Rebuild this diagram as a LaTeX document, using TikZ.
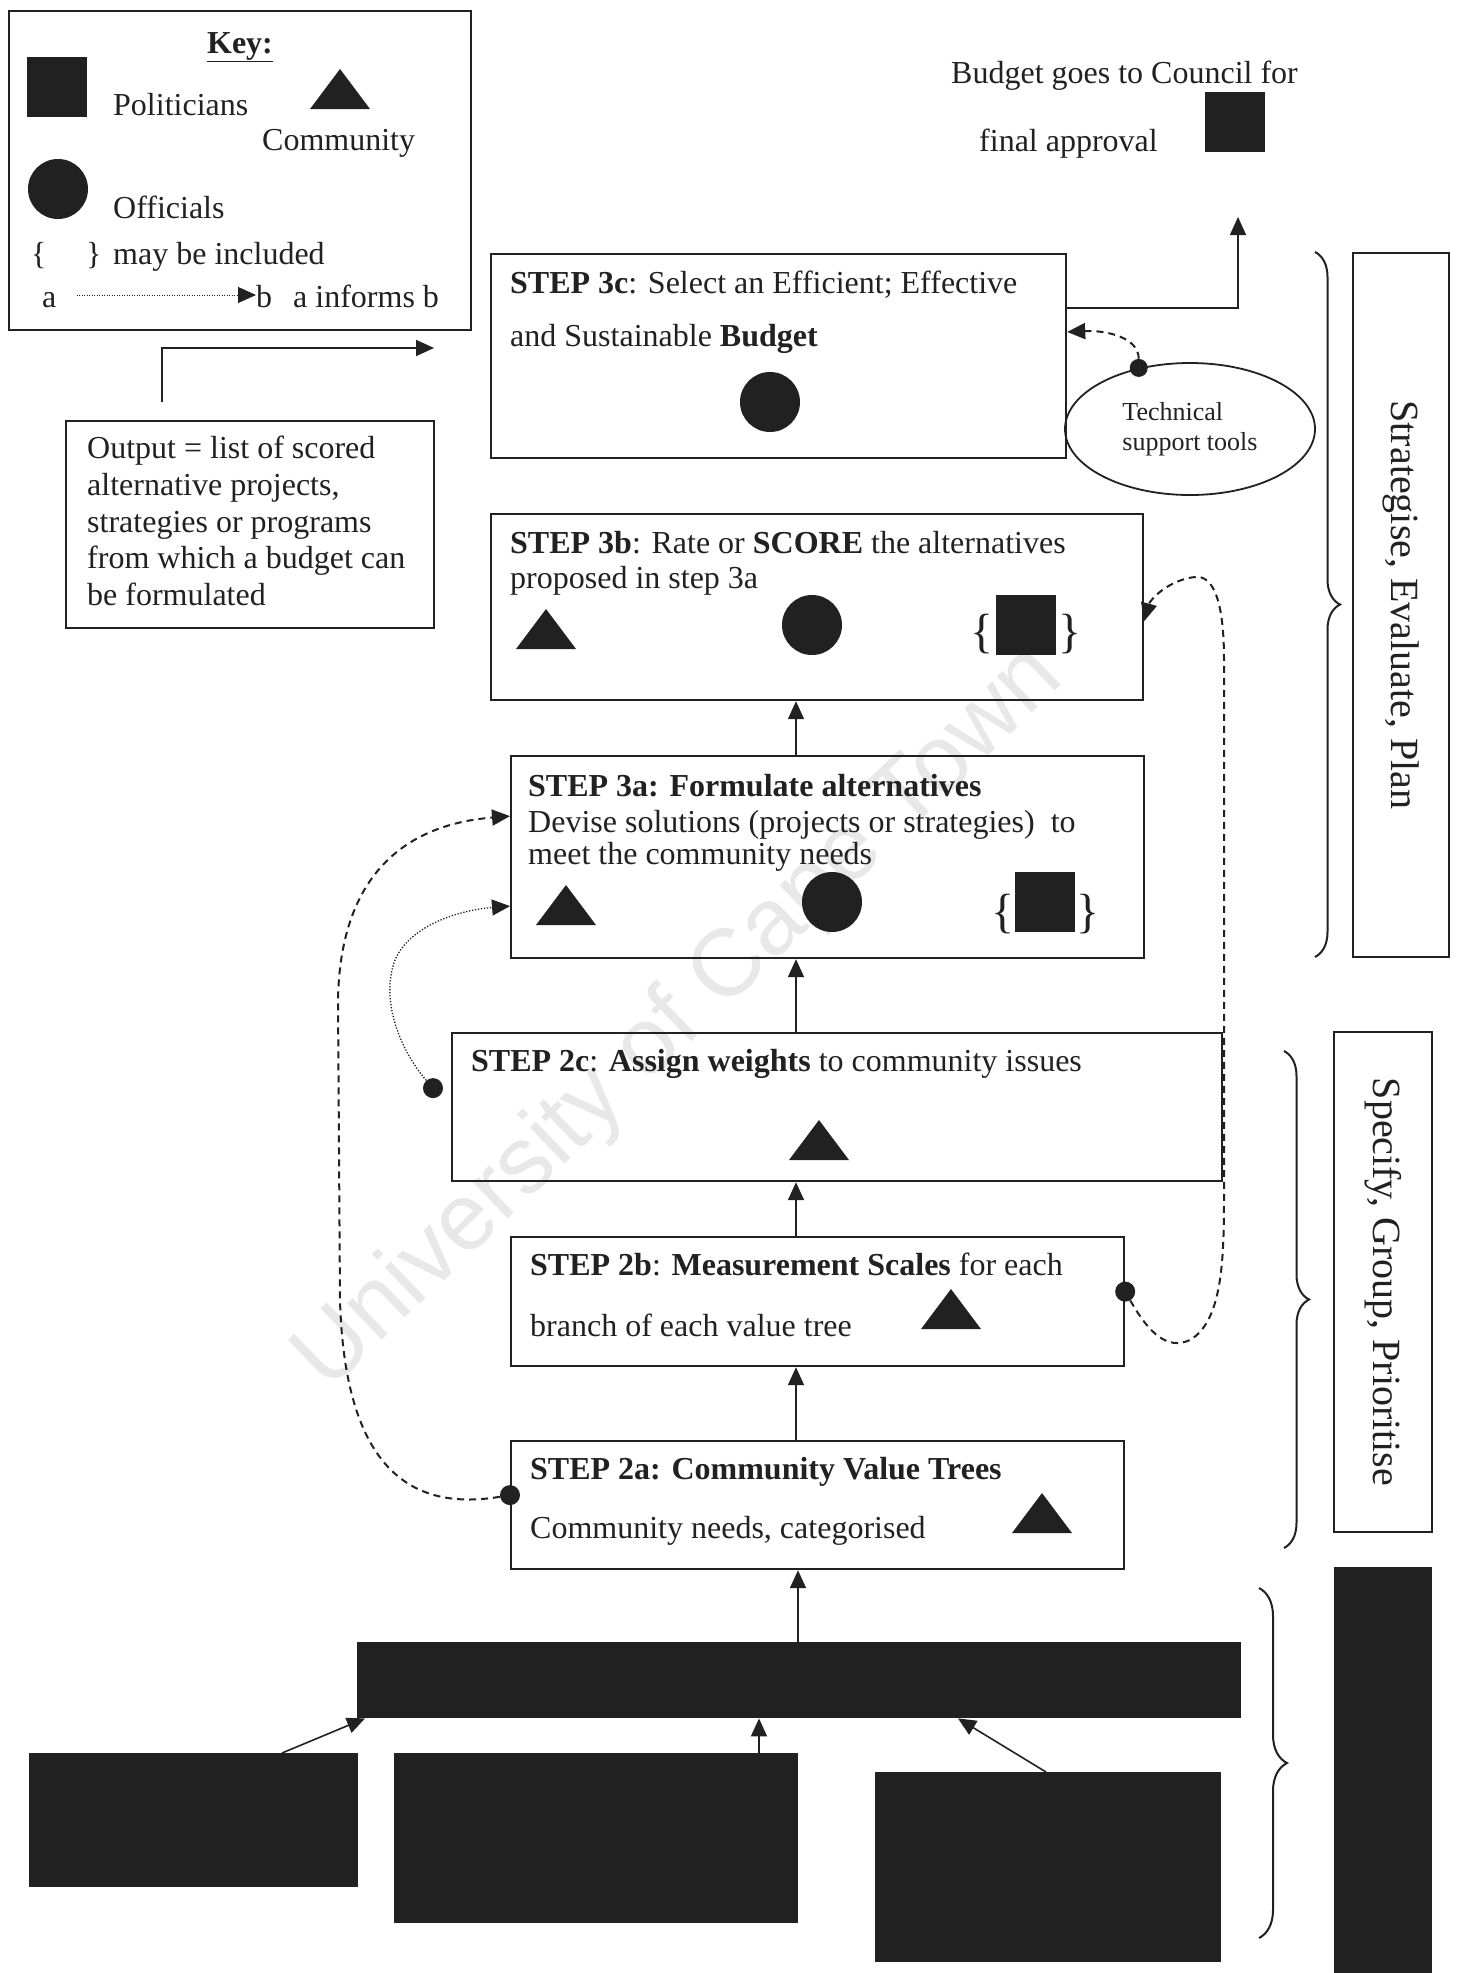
\documentclass[tikz,border=0pt]{standalone}
\usepackage{fontspec}
\setmainfont{Liberation Serif}
\newfontfamily\wmfont{Liberation Sans}
\usetikzlibrary{arrows.meta,shapes.geometric,decorations.pathreplacing,calc}
\definecolor{ink}{gray}{0.13}
\newcommand\fsz[2]{\fontsize{#1}{#2}\selectfont}
\begin{document}
\begin{tikzpicture}[x=1pt,y=-1pt,
  box/.style={draw=ink, line width=2.2pt, rectangle, inner sep=0pt, anchor=north west},
  txt/.style={anchor=base west, inner sep=0pt, font=\fsz{32}{37}, text=ink},
  dark/.style={fill=ink, draw=none, inner sep=0pt},
  official/.style={circle, fill=ink, minimum size=60pt, inner sep=0pt},
  politician/.style={rectangle, fill=ink, minimum size=60pt, inner sep=0pt},
  comm/.pic={\fill[ink] (0,0) -- (-30,40) -- (30,40) -- cycle;},
  arr/.style={draw=ink, line width=1.6pt, -{Triangle[length=18pt,width=16pt]}},
  dsh/.style={draw=ink, line width=2pt, dash pattern=on 7pt off 5pt, -{Triangle[length=18pt,width=16pt]}},
  dotl/.style={draw=ink, line width=1.3pt, dash pattern=on 1.3pt off 1.7pt, -{Triangle[length=18pt,width=16pt]}},
  dot/.style={circle, fill=ink, minimum size=20pt, inner sep=0pt},
  brc/.style={decorate, decoration={brace, amplitude=25pt}, draw=ink, line width=2pt},
  curly/.style={inner sep=0pt, font=\fsz{48}{48}, text=ink},
]
\fill[white] (0,0) rectangle (1460,1973);
\useasboundingbox (0,0) rectangle (1460,1973);

% watermark
\node[rotate=44, text=black!9, font={\wmfont\fsz{95}{95}}, inner sep=0pt] (wm) at (680,1019) {University of Cape Town};

% key
\node[box, minimum width=462pt, minimum height=319pt] (key) at (8,10) {};
\node[anchor=base, inner sep=0pt, font=\fsz{32}{37}\bfseries, text=ink] (keyt) at (240,53) {\underline{Key:}};
\node[politician, anchor=north west] (kp) at (27,57) {};
\node[txt] (kpt) at (113,115) {Politicians};
\pic at (340,69) {comm};
\node[txt] (kct) at (262,150) {Community};
\node[official] (ko) at (58,189) {};
\node[txt] (kot) at (113,218) {Officials};
\node[txt] (kb1) at (31,264) {\{};
\node[txt] (kb2) at (86,264) {\}};
\node[txt] (kbt) at (113,264) {may be included};
\node[txt] (ka) at (42,307) {a};
\node[txt] (kb) at (256,307) {b};
\node[txt] (kat) at (293,307) {a informs b};
\draw[dotl, line width=1pt, dash pattern=on 1pt off 1.5pt] ($(ka.base east)+(20,-12)$) -- ($(kb.base west)+(0,-12)$);

% budget
\node[txt] (bud1) at (951,83) {Budget goes to Council for};
\node[txt] (bud2) at (979,151) {final approval};
\node[politician, anchor=north west] (bsq) at (1205,92) {};

% step 3c
\node[box, minimum width=575pt, minimum height=204pt] (s3c) at (490,253) {};
\node[txt] (t3c1) at (510,293) {\textbf{STEP 3c}: Select an Efficient; Effective};
\node[txt] (t3c2) at (510,346) {and Sustainable \textbf{Budget}};
\node[official] (o3c) at (770,402) {};
\coordinate (council) at (1238,217);
\draw[arr] ($(s3c.north east)+(0,55)$) -| (council);

\node[ellipse, draw=ink, line width=1.8pt, minimum width=250pt, minimum height=132pt, inner sep=0pt, align=left, font=\fsz{26}{30}, text=ink] (tsup) at (1190,429) {Technical\\support tools};
\node[dot, minimum size=18pt] (tdot) at (tsup.130) {};
\draw[dsh] (tdot) .. controls +(0,-30) and +(40,-2) .. ($(s3c.north east)+(0,79)$);

% output box
\node[box, minimum width=368pt, minimum height=207pt] (out) at (65,420) {};
\node[txt] (out1) at (87,458) {Output = list of scored};
\node[txt] (out2) at (87,495) {alternative projects,};
\node[txt] (out3) at (87,532) {strategies or programs};
\node[txt] (out4) at (87,568) {from which a budget can};
\node[txt] (out5) at (87,605) {be formulated};
\coordinate (o1) at (162,402);
\coordinate (o2) at (434,348);
\draw[arr] (o1) |- (o2);

% step 3b
\node[box, minimum width=652pt, minimum height=186pt] (s3b) at (490,513) {};
\node[txt] (t3b1) at (510,553) {\textbf{STEP 3b}: Rate or \textbf{SCORE} the alternatives};
\node[txt] (t3b2) at (510,588) {proposed in step 3a};
\pic at (546,609) {comm};
\node[official] (o3b) at (812,625) {};
\node[politician, anchor=north west] (p3b) at (996,595) {};
\node[curly] (l3b) at (982,634) {\{};
\node[curly] (r3b) at (1070,634) {\}};

% step 3a
\node[box, minimum width=633pt, minimum height=202pt] (s3a) at (510,755) {};
\node[txt] (t3a1) at (528,796) {\textbf{STEP 3a: Formulate alternatives}};
\node[txt] (t3a2) at (528,832) {Devise solutions (projects or strategies)\ \ to};
\node[txt] (t3a3) at (528,864) {meet the community needs};
\pic at (566,885) {comm};
\node[official] (o3a) at (832,902) {};
\node[politician, anchor=north west] (p3a) at (1015,872) {};
\node[curly] (l3a) at (1003,914) {\{};
\node[curly] (r3a) at (1088,914) {\}};

% step 2c
\node[box, minimum width=770pt, minimum height=148pt] (s2c) at (451,1032) {};
\node[txt] (t2c) at (471,1071) {\textbf{STEP 2c}: \textbf{Assign weights} to community issues};
\pic at (819,1120) {comm};

% step 2b
\node[box, minimum width=613pt, minimum height=129pt] (s2b) at (510,1236) {};
\node[txt] (t2b1) at (530,1275) {\textbf{STEP 2b}: \textbf{Measurement Scales} for each};
\node[txt] (t2b2) at (530,1336) {branch of each value tree};
\pic at (951,1289) {comm};

% step 2a
\node[box, minimum width=613pt, minimum height=128pt] (s2a) at (510,1440) {};
\node[txt] (t2a1) at (530,1479) {\textbf{STEP 2a: Community Value Trees}};
\node[txt] (t2a2) at (530,1538) {Community needs, categorised};
\pic at (1042,1493) {comm};

% bottom dark boxes
\node[dark, anchor=north west, minimum width=884pt, minimum height=76pt] (bar) at (357,1642) {};
\node[dark, anchor=north west, minimum width=329pt, minimum height=134pt] (bl) at (29,1753) {};
\node[dark, anchor=north west, minimum width=404pt, minimum height=170pt] (bm) at (394,1753) {};
\node[dark, anchor=north west, minimum width=346pt, minimum height=190pt] (br) at (875,1772) {};

% spine arrows
\coordinate (sp) at (796,0);
\coordinate (sp2) at (798,0);
\draw[arr] (s3a.north -| sp) -- (s3b.south -| sp);
\draw[arr] (s2c.north -| sp) -- (s3a.south -| sp);
\draw[arr] (s2b.north -| sp) -- (s2c.south -| sp);
\draw[arr] (s2a.north -| sp) -- (s2b.south -| sp);
\draw[arr] (bar.north -| sp2) -- (s2a.south -| sp2);

\coordinate (xl1) at (282,0);
\coordinate (xl2) at (365,0);
\coordinate (xm) at (759,0);
\coordinate (xr1) at (1046,0);
\coordinate (xr2) at (958,0);
\draw[arr] (bl.north -| xl1) -- (bar.south -| xl2);
\draw[arr] (bm.north -| xm) -- (bar.south -| xm);
\draw[arr] (br.north -| xr1) -- (bar.south -| xr2);

% informs connectors
\node[dot] (d2b) at ($(s2b.east)+(0,-10)$) {};
\draw[dsh] (d2b) .. controls (1150,1335) and (1168,1350) .. (1190,1340)
  .. controls (1220,1322) and (1224,1270) .. (1224,1200) -- (1224,660)
  .. controls (1224,600) and (1213,575) .. (1195,577)
  .. controls (1168,580) and (1150,600) .. ($(s3b.east)+(0,14)$);

\node[dot] (d2a) at ($(s2a.west)+(0,-10)$) {};
\draw[dsh] (d2a) .. controls (420,1510) and (345,1480) .. (340,1300) -- (338,1000)
  .. controls (340,880) and (400,825) .. ($(s3a.west)+(0,-41)$);

\node[dot] (d2c) at ($(s2c.west)+(-18,-19)$) {};
\draw[dotl] (d2c) .. controls (400,1050) and (380,1000) .. (395,960)
  .. controls (410,925) and (460,910) .. ($(s3a.west)+(0,49)$);

% braces and phase labels
\draw[brc] (1315,252) -- (1315,957);
\draw[brc] (1284,1051) -- (1284,1548);
\draw[brc, decoration={brace, amplitude=28pt}] (1259,1588) -- (1259,1938);

\node[draw=ink, line width=2.2pt, rotate=-90, minimum width=704pt, minimum height=96pt, inner sep=0pt, font=\fsz{40}{40}, text=ink] (sd1) at (1401,605) {Strategise, Evaluate, Plan};
\node[draw=ink, line width=2.2pt, rotate=-90, minimum width=500pt, minimum height=98pt, inner sep=0pt, font=\fsz{40}{40}, text=ink] (sd2) at (1383,1282) {Specify, Group, Prioritise};
\node[dark, anchor=north west, minimum width=98pt, minimum height=406pt] (sd3) at (1334,1567) {};
\end{tikzpicture}
\end{document}
